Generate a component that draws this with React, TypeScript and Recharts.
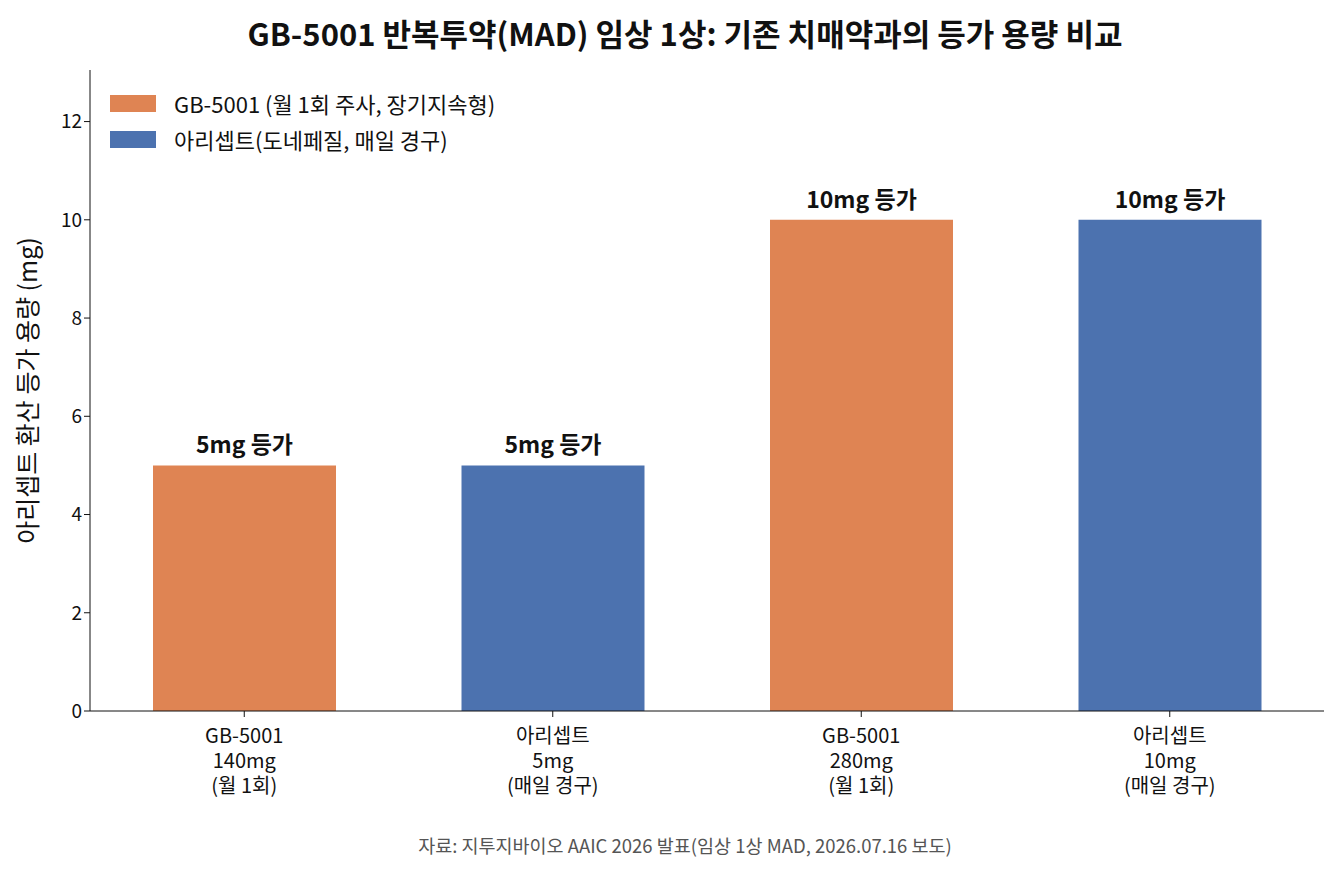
import { BarChart, Bar, XAxis, YAxis, Cell, LabelList } from 'recharts';

const drugs = ['GB-5001', '아리셉트', 'GB-5001', '아리셉트'];
const doses = ['140mg', '5mg', '280mg', '10mg'];
const schedules = ['(월 1회)', '(매일 경구)', '(월 1회)', '(매일 경구)'];
const equivalents = [5, 5, 10, 10];
const labels = ['5mg 등가', '5mg 등가', '10mg 등가', '10mg 등가'];
const yTicks = [0, 2, 4, 6, 8, 10, 12];

const ORANGE = '#DF8453';
const BLUE = '#4C72AF';
const FONT = '"Noto Sans CJK KR", "Noto Sans", sans-serif';

const data = drugs.map((d, i) => ({
  key: String(i),
  drug: d,
  dose: doses[i],
  schedule: schedules[i],
  value: equivalents[i],
  label: labels[i],
}));

const CategoryTick = (props: any) => {
  const { x, y, payload } = props;
  const row = data[Number(payload.value)];
  return (
    <text x={x} y={y + 24} textAnchor="middle" fontSize={20} fill="#111" fontFamily={FONT}>
      <tspan x={x}>{row.drug}</tspan>
      <tspan x={x} dy={25}>{row.dose}</tspan>
      <tspan x={x} dy={25}>{row.schedule}</tspan>
    </text>
  );
};

export default function App() {
  return (
    <div style={{ position: 'absolute', left: 0, top: 0, width: 1334, height: 873, background: '#fff', fontFamily: FONT }}>
      <div style={{ position: 'absolute', top: 10, width: 1334, paddingLeft: 36, boxSizing: 'border-box', textAlign: 'center', fontSize: 31, fontWeight: 700, color: '#111' }}>
        GB-5001 반복투약(MAD) 임상 1상: 기존 치매약과의 등가 용량 비교
      </div>
      <BarChart width={1334} height={873} data={data} margin={{ top: 70, right: 10, bottom: 132, left: 0 }}>
        <XAxis dataKey="key" tick={<CategoryTick />} tickLine={{ stroke: '#111' }} axisLine={{ stroke: '#111' }} interval={0} />
        <YAxis
          domain={[0, 13.05]}
          ticks={yTicks}
          width={90}
          tick={{ fontSize: 19, fill: '#111', fontFamily: FONT }}
          tickLine={{ stroke: '#111' }}
          axisLine={{ stroke: '#111' }}
          label={{ value: '아리셉트 환산 등가 용량 (mg)', angle: -90, position: 'insideLeft', offset: 28, style: { fontSize: 25, fill: '#111', textAnchor: 'middle', fontFamily: FONT } }}
        />
        <Bar dataKey="value" barSize={183} isAnimationActive={false}>
          {data.map((d, i) => (
            <Cell key={d.key} fill={i % 2 === 0 ? ORANGE : BLUE} />
          ))}
          <LabelList dataKey="label" position="top" offset={12} style={{ fontSize: 23, fontWeight: 700, fill: '#111', fontFamily: FONT }} />
        </Bar>
      </BarChart>
      <div style={{ position: 'absolute', left: 110, top: 85, fontSize: 22, color: '#111', lineHeight: '36px' }}>
        <div style={{ display: 'flex', alignItems: 'center' }}>
          <span style={{ width: 46, height: 17, background: ORANGE, marginRight: 18 }} />GB-5001 (월 1회 주사, 장기지속형)
        </div>
        <div style={{ display: 'flex', alignItems: 'center' }}>
          <span style={{ width: 46, height: 17, background: BLUE, marginRight: 18 }} />아리셉트(도네페질, 매일 경구)
        </div>
      </div>
      <div style={{ position: 'absolute', top: 832, width: 1334, paddingLeft: 36, boxSizing: 'border-box', textAlign: 'center', fontSize: 18.5, color: '#555' }}>
        자료: 지투지바이오 AAIC 2026 발표(임상 1상 MAD, 2026.07.16 보도)
      </div>
    </div>
  );
}
